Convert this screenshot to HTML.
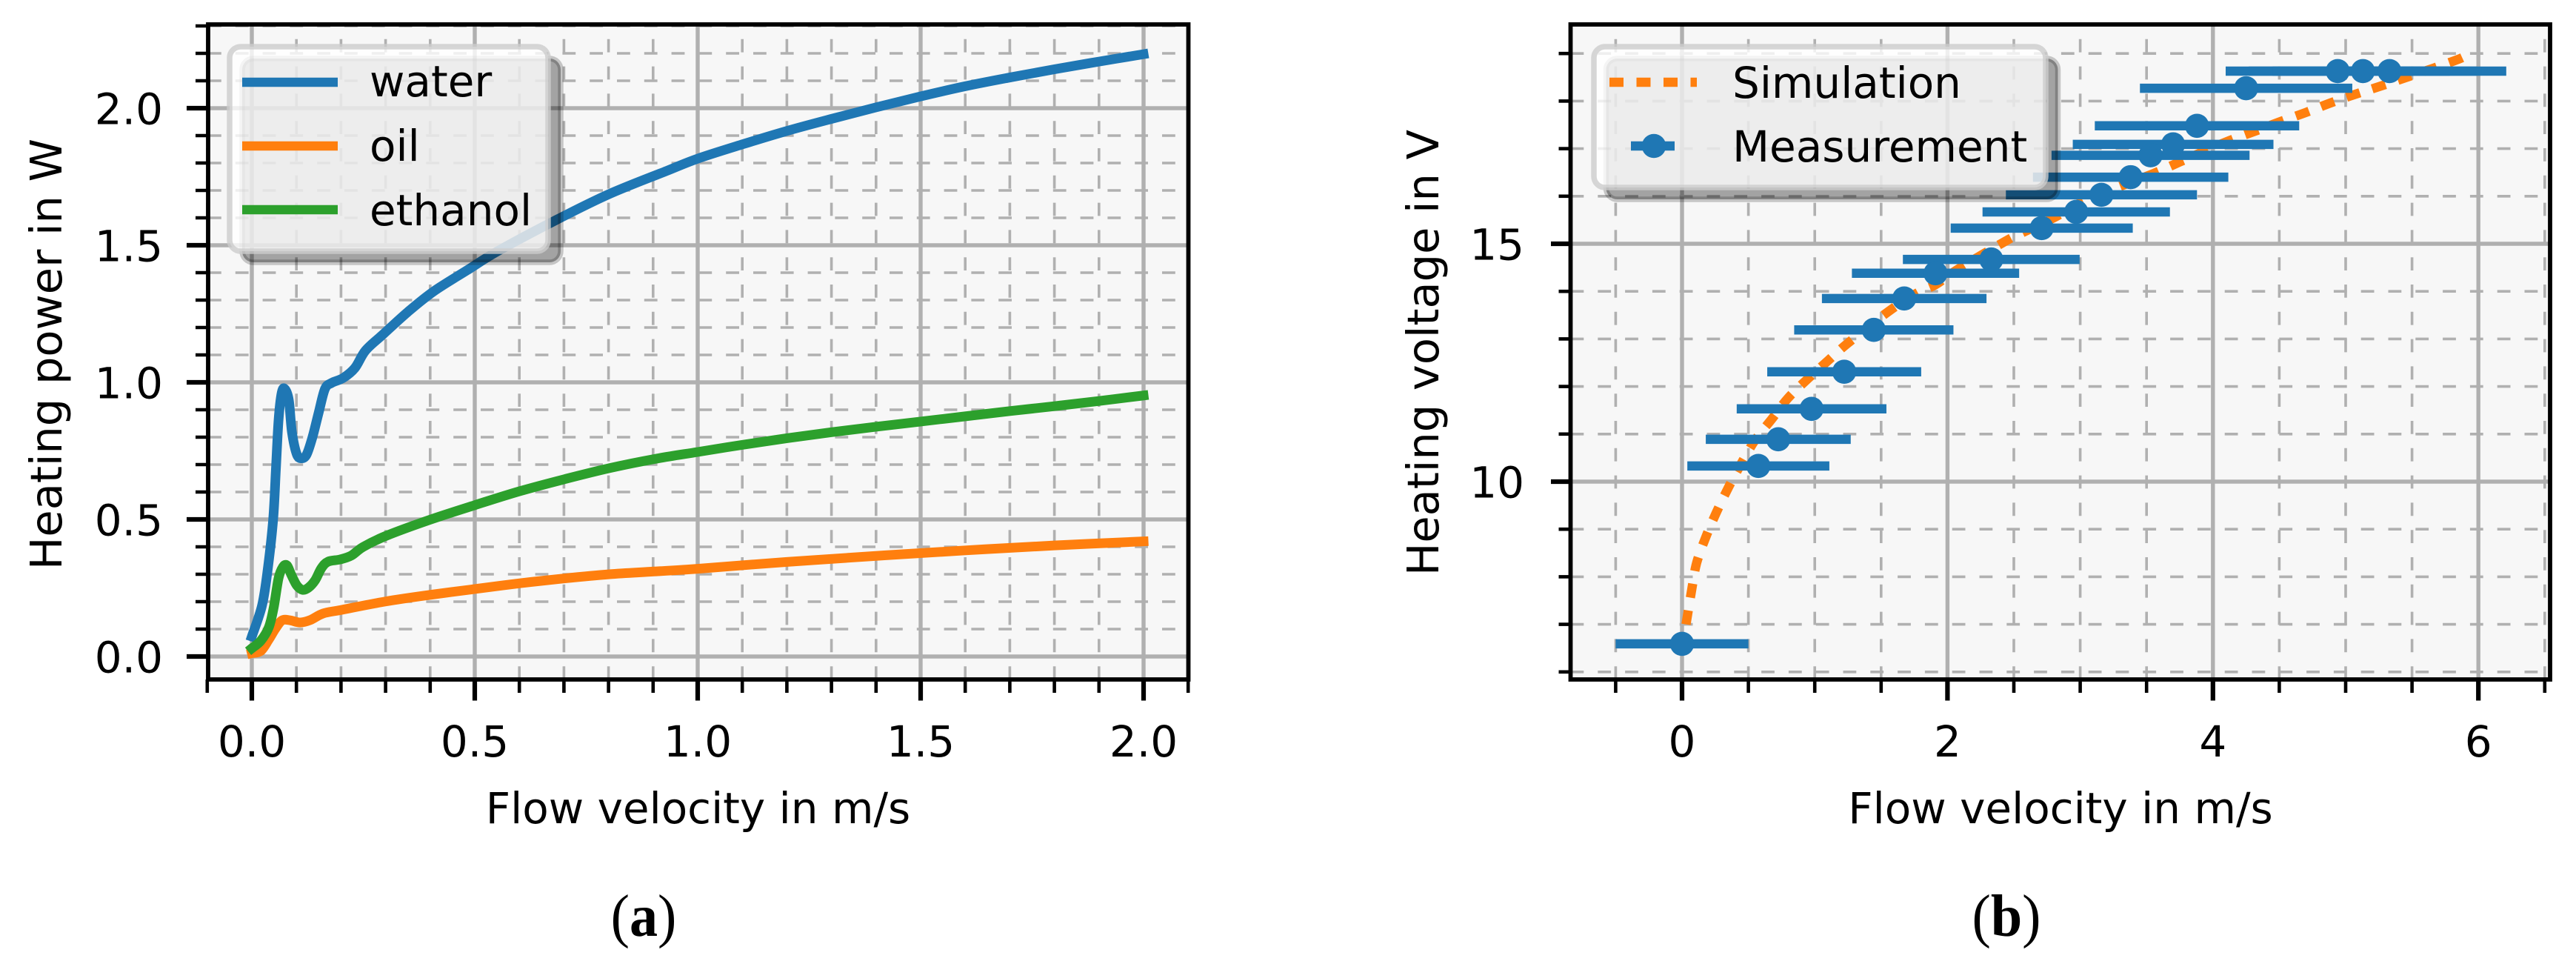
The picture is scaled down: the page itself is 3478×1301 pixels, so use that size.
<!DOCTYPE html>
<html lang="en">
<head>
<meta charset="utf-8">
<title>Heating power and heating voltage versus flow velocity</title>
<style>
html,body{margin:0;padding:0;background:#fff;}
svg{display:block;}
text{font-family:"DejaVu Sans","Liberation Sans",sans-serif;fill:#000;}
.lab{font-size:58px;}
.ylab{font-size:59px;}
.cap{font-family:"Liberation Serif",serif;font-size:81px;}
</style>
</head>
<body>
<svg id="figure" xmlns="http://www.w3.org/2000/svg" width="3478" height="1301" viewBox="0 0 3478 1301">
  <rect x="0" y="0" width="3478" height="1301" fill="#ffffff"/>

  <g id="panel-a">
    <rect x="281" y="33" width="1324" height="884" fill="#f7f7f7"/>
    <g id="a-grid"></g>
    <g id="a-series"></g>
    <g id="a-axes"></g>
    <text class="lab" x="942.5" y="1111" text-anchor="middle">Flow velocity in m/s</text>
    <text class="ylab" transform="translate(83,478) rotate(-90)" text-anchor="middle">Heating power in W</text>
    <g>
      <rect x="327" y="79" width="430" height="275" rx="15" fill="#000" fill-opacity="0.34" stroke="#000" stroke-opacity="0.2" stroke-width="7.5"/>
      <rect x="310" y="63" width="430" height="276" rx="15" fill="#fff" fill-opacity="0.8" stroke="#ccc" stroke-opacity="0.8" stroke-width="7.5"/>
      <line x1="327" y1="111" x2="456" y2="111" stroke="#1f77b4" stroke-width="12.5"/>
      <text class="lab" x="499" y="130">water</text>
      <line x1="327" y1="197" x2="456" y2="197" stroke="#ff7f0e" stroke-width="12.5"/>
      <text class="lab" x="499" y="217">oil</text>
      <line x1="327" y1="283" x2="456" y2="283" stroke="#2ca02c" stroke-width="12.5"/>
      <text class="lab" x="499" y="304">ethanol</text>
    </g>
    <text class="cap" transform="translate(869,1263) scale(0.94,1)" text-anchor="middle">(<tspan font-weight="bold">a</tspan>)</text>
  </g>

  <g id="panel-b">
    <rect x="2120.5" y="33" width="1323" height="884" fill="#f7f7f7"/>
    <g id="b-grid"></g>
    <g id="b-series"></g>
    <g id="b-axes"></g>
    <text class="lab" x="2782" y="1111" text-anchor="middle">Flow velocity in m/s</text>
    <text class="ylab" transform="translate(1942,476) rotate(-90)" text-anchor="middle">Heating voltage in V</text>
    <g>
      <rect x="2168.5" y="79" width="610" height="190" rx="15" fill="#000" fill-opacity="0.34" stroke="#000" stroke-opacity="0.2" stroke-width="7.5"/>
      <rect x="2152" y="63" width="610" height="190" rx="15" fill="#fff" fill-opacity="0.8" stroke="#ccc" stroke-opacity="0.8" stroke-width="7.5"/>
      <line x1="2173" y1="111" x2="2291" y2="111" stroke="#ff7f0e" stroke-width="12.5" stroke-dasharray="19 17.5"/>
      <text class="lab" x="2339" y="132">Simulation</text>
      <line x1="2202" y1="197" x2="2261" y2="197" stroke="#1f77b4" stroke-width="12.5"/>
      <circle cx="2233" cy="197" r="16.3" fill="#1f77b4"/>
      <text class="lab" x="2339" y="218">Measurement</text>
    </g>
    <text class="cap" transform="translate(2709,1263) scale(0.94,1)" text-anchor="middle">(<tspan font-weight="bold">b</tspan>)</text>
  </g>
</svg>
<script>
// Panel (a): heating power versus flow velocity
const waterVelocity = [0,.023,.036,.048,.054,.06,.067,.074,.083,.09,.101,.112,.123,.136,.15,.164,.179,.205,.231,.255,.293,.35,.408,.484,.551,.674,.799,.93,1.0,1.1,1.2,1.3,1.4,1.5,1.6,1.7,1.8,1.9,2.0];
const waterPower = [.073,.187,.322,.503,.683,.863,.962,.976,.935,.818,.737,.723,.737,.80,.89,.976,.998,1.016,1.052,1.116,1.173,1.257,1.332,1.41,1.478,1.585,1.685,1.771,1.816,1.868,1.917,1.961,2.003,2.043,2.08,2.112,2.142,2.17,2.197];
const oilVelocity = [0,.02,.038,.053,.068,.086,.108,.131,.16,.201,.301,.401,.5,.601,.702,.802,.902,1.0,1.2,1.4,1.6,1.8,2.0];
const oilPower = [.012,.02,.062,.102,.132,.132,.124,.133,.157,.17,.201,.225,.246,.267,.285,.30,.31,.32,.345,.367,.387,.405,.42];
const ethanolVelocity = [0,.02,.038,.049,.06,.07,.079,.088,.101,.114,.127,.142,.156,.171,.198,.223,.25,.301,.398,.5,.601,.702,.802,.902,1.0,1.1,1.2,1.3,1.4,1.5,1.6,1.7,1.8,1.9,2.0];
const ethanolPower = [.03,.057,.106,.178,.286,.327,.332,.30,.259,.243,.251,.278,.322,.346,.354,.368,.40,.44,.498,.552,.603,.647,.687,.72,.746,.772,.796,.818,.838,.857,.876,.895,.913,.932,.952];
const aXMajorTicks = [0,0.5,1,1.5,2];
const aXTickLabels = ['0.0','0.5','1.0','1.5','2.0'];
const aXMinorTicks = [-0.1,0.1,0.2,0.3,0.4,0.6,0.7,0.8,0.9,1.1,1.2,1.3,1.4,1.6,1.7,1.8,1.9,2.1];
const aYMajorTicks = [0,0.5,1,1.5,2];
const aYTickLabels = ['0.0','0.5','1.0','1.5','2.0'];
const aYMinorTicks = [0.1,0.2,0.3,0.4,0.6,0.7,0.8,0.9,1.1,1.2,1.3,1.4,1.6,1.7,1.8,1.9,2.1,2.2,2.3];

// Panel (b): heating voltage versus flow velocity
const simVelocity = [.03,.073,.11,.18,.26,.35,.44,.55,.675,.80,.955,1.095,1.245,1.557,1.767,1.91,2.087,2.44,2.6,2.81,3.03,3.34,3.555,3.75,3.93,4.125,4.32,4.51,4.70,4.885,5.08,5.27,5.47,5.66,5.85,5.91];
const simVoltage = [7.0,7.73,8.29,8.84,9.36,9.88,10.35,10.87,11.31,11.76,12.18,12.53,12.9,13.58,13.96,14.14,14.48,15.06,15.28,15.56,15.9,16.25,16.48,16.72,16.94,17.17,17.37,17.57,17.76,17.96,18.15,18.32,18.51,18.69,18.88,18.96];
const measVelocity = [0,.575,.725,.976,1.222,1.445,1.674,1.91,2.33,2.71,2.97,3.16,3.38,3.53,3.70,3.88,4.25,4.94,5.13,5.33];
const measVoltage = [6.59,10.33,10.89,11.53,12.31,13.19,13.85,14.38,14.67,15.33,15.67,16.03,16.40,16.86,17.09,17.48,18.27,18.63,18.63,18.63];
const measVelocityError = [.5,.535,.546,.564,.58,.60,.62,.63,.666,.686,.706,.72,.736,.746,.756,.77,.80,.844,.86,.88];
const bXMajorTicks = [0,2,4,6];
const bXTickLabels = ['0','2','4','6'];
const bXMinorTicks = [-0.5,0.5,1,1.5,2.5,3,3.5,4.5,5,5.5,6.5];
const bYMajorTicks = [10,15];
const bYTickLabels = ['10','15'];
const bYMinorTicks = [6,7,8,9,11,12,13,14,16,17,18,19];

// Axis scale functions
const xA = v => 340 + 602 * v;
const yA = v => 886 - 370 * v;
const xB = v => 2271 + 179.2 * v;
const yB = v => 329 + (15 - v) * 64.2;

const SVGNS = 'http://www.w3.org/2000/svg';
function mk(parent, tag, attrs) {
  const el = document.createElementNS(SVGNS, tag);
  for (const k in attrs) el.setAttribute(k, attrs[k]);
  parent.appendChild(el);
  return el;
}
function smoothPath(xs, ys, sx, sy) {
  const p = xs.map((x, i) => [sx(x), sy(ys[i])]);
  let d = 'M' + p[0][0].toFixed(2) + ' ' + p[0][1].toFixed(2);
  for (let i = 0; i < p.length - 1; i++) {
    const p0 = p[Math.max(i - 1, 0)], p1 = p[i], p2 = p[i + 1], p3 = p[Math.min(i + 2, p.length - 1)];
    const c1x = p1[0] + (p2[0] - p0[0]) / 6, c1y = p1[1] + (p2[1] - p0[1]) / 6;
    const c2x = p2[0] - (p3[0] - p1[0]) / 6, c2y = p2[1] - (p3[1] - p1[1]) / 6;
    d += 'C' + [c1x, c1y, c2x, c2y, p2[0], p2[1]].map(n => n.toFixed(2)).join(' ');
  }
  return d;
}

function drawFrame(o) {
  const grid = document.getElementById(o.gridId), axes = document.getElementById(o.axesId);
  const GRID = '#b0b0b0', DASH = '17.8 19';
  o.yMinor.forEach(v => {
    const el = mk(grid, 'line', {x1: o.left, x2: o.right, y1: o.sy(v), y2: o.sy(v), stroke: GRID, 'stroke-width': 3.6, 'stroke-dasharray': DASH});
    
    
  });
  o.xMinor.forEach(v => {
    const el = mk(grid, 'line', {x1: o.sx(v), x2: o.sx(v), y1: o.bottom, y2: o.top, stroke: GRID, 'stroke-width': 3.6, 'stroke-dasharray': DASH});
    
    
  });
  o.yMajor.forEach(v => {
    const el = mk(grid, 'line', {x1: o.left, x2: o.right, y1: o.sy(v), y2: o.sy(v), stroke: GRID, 'stroke-width': 5.4});
    
    
  });
  o.xMajor.forEach(v => {
    const el = mk(grid, 'line', {x1: o.sx(v), x2: o.sx(v), y1: o.bottom, y2: o.top, stroke: GRID, 'stroke-width': 5.4});
    
    
  });
  o.xMinor.forEach(v => {
    const el = mk(axes, 'line', {x1: o.sx(v), x2: o.sx(v), y1: o.bottom, y2: 935, stroke: '#000', 'stroke-width': 4.6});
    
    
  });
  o.yMinor.forEach(v => {
    const el = mk(axes, 'line', {x1: o.left, x2: o.left - o.minorLen, y1: o.sy(v), y2: o.sy(v), stroke: '#000', 'stroke-width': 4.6});
    
    
  });
  o.xMajor.forEach((v, i) => {
    const el = mk(axes, 'line', {x1: o.sx(v), x2: o.sx(v), y1: o.bottom, y2: 945.5, stroke: '#000', 'stroke-width': 6.2});
    
    
    const t = mk(axes, 'text', {class: 'lab', x: o.sx(v), y: 1021, 'text-anchor': 'middle'});
    t.textContent = o.xLabels[i];
    
    
  });
  o.yMajor.forEach((v, i) => {
    const el = mk(axes, 'line', {x1: o.left, x2: o.left - o.majorLen, y1: o.sy(v), y2: o.sy(v), stroke: '#000', 'stroke-width': 6.2});
    
    
    const t = mk(axes, 'text', {class: 'lab', x: o.labelRight, y: o.sy(v) + 21.5, 'text-anchor': 'end'});
    t.textContent = o.yLabels[i];
    
    
  });
  const frame = mk(axes, 'rect', {x: o.left, y: o.top, width: o.right - o.left, height: o.bottom - o.top, fill: 'none', stroke: '#000', 'stroke-width': 5.8});
  
  
}

drawFrame({gridId: 'a-grid', axesId: 'a-axes', left: 281, right: 1604.5, top: 33, bottom: 917, sx: xA, sy: yA,
  xMajor: aXMajorTicks, xMinor: aXMinorTicks, yMajor: aYMajorTicks, yMinor: aYMinorTicks,
  xLabels: aXTickLabels, yLabels: aYTickLabels, minorLen: 17, majorLen: 29, labelRight: 220});
drawFrame({gridId: 'b-grid', axesId: 'b-axes', left: 2120.5, right: 3443, top: 33, bottom: 917, sx: xB, sy: yB,
  xMajor: bXMajorTicks, xMinor: bXMinorTicks, yMajor: bYMajorTicks, yMinor: bYMinorTicks,
  xLabels: bXTickLabels, yLabels: bYTickLabels, minorLen: 16, majorLen: 26.5, labelRight: 2058});

const aSeries = document.getElementById('a-series');
const waterLine = mk(aSeries, 'path', {d: smoothPath(waterVelocity, waterPower, xA, yA), fill: 'none', stroke: '#1f77b4', 'stroke-width': 13, 'stroke-linecap': 'square', 'stroke-linejoin': 'round'});


const oilLine = mk(aSeries, 'path', {d: smoothPath(oilVelocity, oilPower, xA, yA), fill: 'none', stroke: '#ff7f0e', 'stroke-width': 13, 'stroke-linecap': 'square', 'stroke-linejoin': 'round'});


const ethanolLine = mk(aSeries, 'path', {d: smoothPath(ethanolVelocity, ethanolPower, xA, yA), fill: 'none', stroke: '#2ca02c', 'stroke-width': 13, 'stroke-linecap': 'square', 'stroke-linejoin': 'round'});



const bSeries = document.getElementById('b-series');
const simLine = mk(bSeries, 'path', {d: smoothPath(simVelocity, simVoltage, xB, yB), fill: 'none', stroke: '#ff7f0e', 'stroke-width': 12.5, 'stroke-dasharray': '19 17.5'});


measVelocity.forEach((v, i) => {
  const bar = mk(bSeries, 'line', {x1: xB(v - measVelocityError[i]), x2: xB(v + measVelocityError[i]), y1: yB(measVoltage[i]), y2: yB(measVoltage[i]), stroke: '#1f77b4', 'stroke-width': 12.5});
  
  
});
measVelocity.forEach((v, i) => {
  const pt = mk(bSeries, 'circle', {cx: xB(v), cy: yB(measVoltage[i]), r: 16.3, fill: '#1f77b4'});
  
  
});
</script>
</body>
</html>
